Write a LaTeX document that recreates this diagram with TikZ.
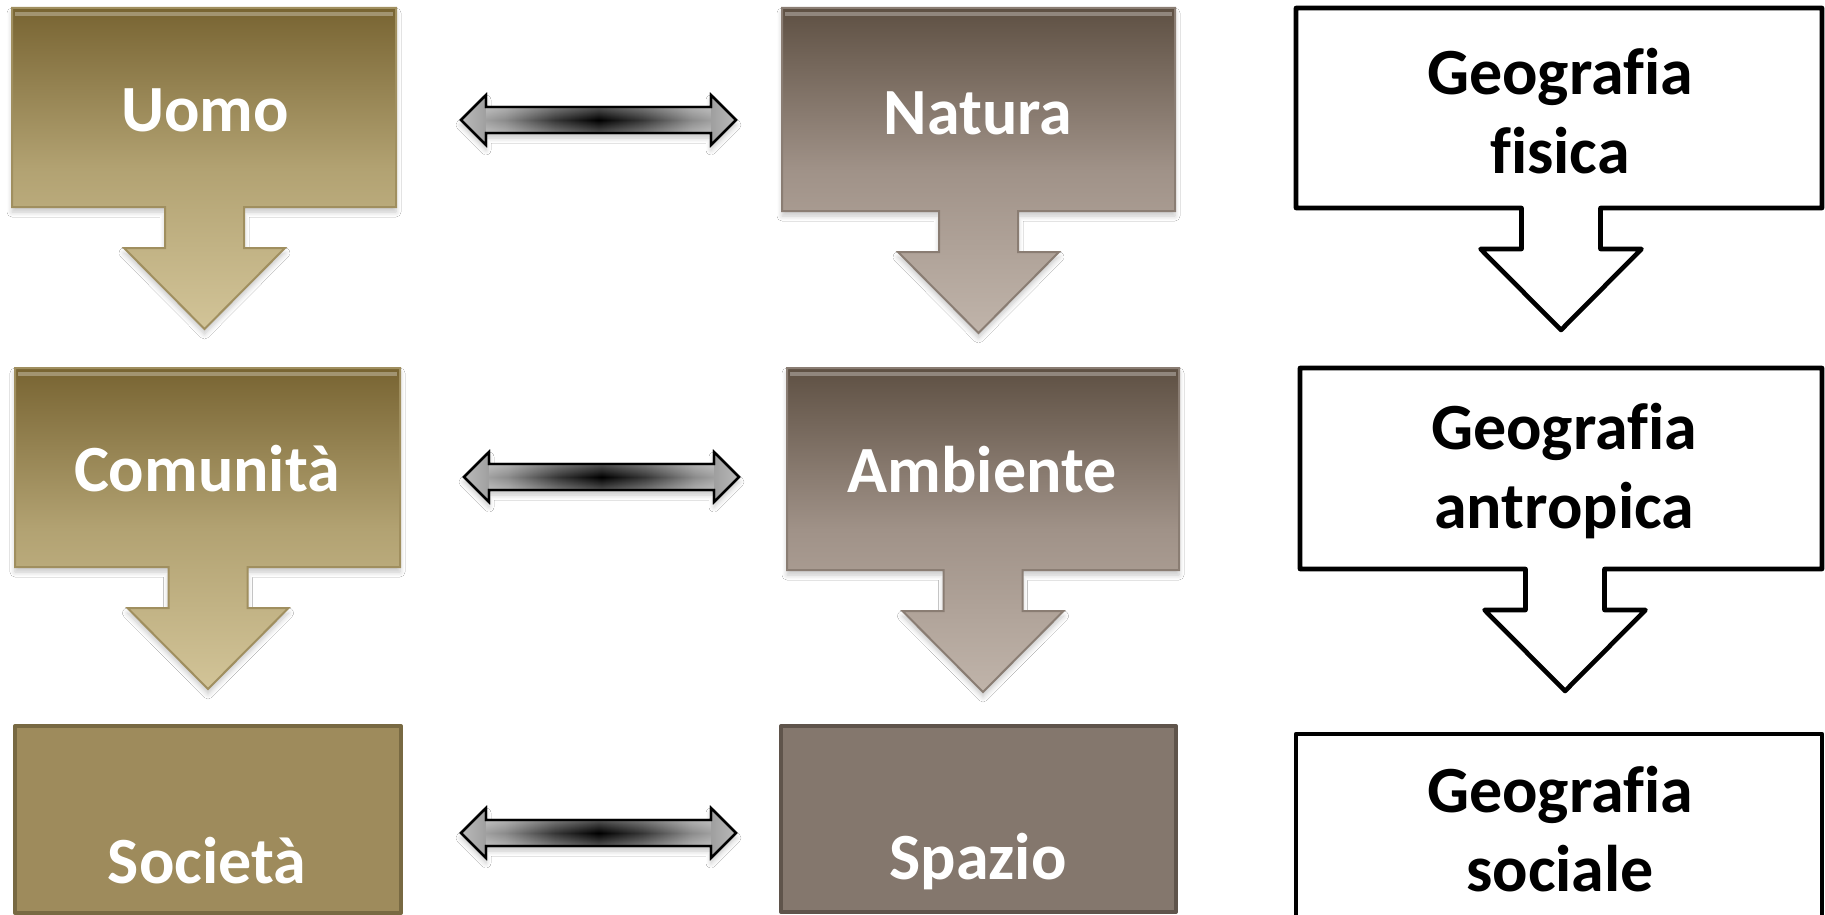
\documentclass[tikz,border=0pt]{standalone}
\usepackage{fontspec}
\setmainfont{Carlito}[Ligatures=NoCommon]
\usetikzlibrary{calc,shadows.blur,fadings}
\definecolor{oliveTop}{RGB}{120,100,50}
\definecolor{oliveMid}{RGB}{178,162,114}
\definecolor{oliveBot}{RGB}{210,196,152}
\definecolor{oliveLine}{RGB}{160,143,95}
\definecolor{oliveFlat}{RGB}{158,139,92}
\definecolor{oliveDark}{RGB}{120,105,66}
\definecolor{taupeTop}{RGB}{94,80,67}
\definecolor{taupeMid}{RGB}{160,146,136}
\definecolor{taupeBot}{RGB}{192,180,170}
\definecolor{taupeLine}{RGB}{138,125,115}
\definecolor{taupeFlat}{RGB}{132,119,109}
\definecolor{taupeDark}{RGB}{95,84,75}
\definecolor{arrGray}{RGB}{185,185,185}
\definecolor{arrMid}{RGB}{140,140,140}
\definecolor{arrDark}{RGB}{55,55,55}
\pgfdeclarehorizontalshading{dblshade}{100bp}{color(0bp)=(arrGray); color(25bp)=(arrGray); color(33bp)=(arrMid); color(42bp)=(arrDark); color(50bp)=(black); color(58bp)=(arrDark); color(67bp)=(arrMid); color(75bp)=(arrGray); color(100bp)=(arrGray)}
\tikzfading[name=edgefade, top color=transparent!70, bottom color=transparent!70, middle color=transparent!100]
\newcommand\calloutpath[5]{(#1,#2) -- (#3,#2) -- (#3,#4) -- (#5+39.5,#4) -- (#5+39.5,#4+41) -- (#5+80.5,#4+41) -- (#5,#4+122) -- (#5-80.5,#4+41) -- (#5-39.5,#4+41) -- (#5-39.5,#4) -- (#1,#4) -- cycle}
\newcommand\dblarrpath[2]{(#1) -- ++(25,-25) -- ++(0,12) -- ($(#2)+(-25,-13)$) -- ++(0,-12) -- (#2) -- ++(-25,25) -- ++(0,-12) -- ($(#1)+(25,13)$) -- ++(0,12) -- cycle}
\tikzset{
  softshadow/.style={blur shadow={shadow blur steps=6, shadow xshift=0pt, shadow yshift=-2.5pt, shadow opacity=22, shadow blur radius=2.5pt}},
  olivegrad/.style={draw=oliveLine, line width=1pt, top color=oliveTop, bottom color=oliveBot, middle color=oliveMid, softshadow},
  taupegrad/.style={draw=taupeLine, line width=1pt, top color=taupeTop, bottom color=taupeBot, middle color=taupeMid, softshadow},
  bevel/.style={draw=white, draw opacity=0.3, line width=2pt},
  olivebox/.style={draw=oliveDark, fill=oliveFlat, line width=2pt, line join=round},
  taupebox/.style={draw=taupeDark, fill=taupeFlat, line width=2pt, line join=round},
  geobox/.style={draw=black, fill=white, line width=2.3pt, line join=round},
  dblarr/.style={draw=black, line width=1.1pt, line join=miter, shading=dblshade, softshadow},
  dblgloss/.style={fill=white, path fading=edgefade},
  wtext/.style={text=white, font=\fontsize{33}{39.5}\selectfont\bfseries, inner sep=0pt, align=center},
  btext/.style={text=black, font=\fontsize{33}{39.5}\selectfont\bfseries, inner sep=0pt, align=center},
}
\begin{document}
\begin{tikzpicture}[x=0.5pt, y=-0.5pt]
\useasboundingbox (0,0) rectangle (1825,915);
\fill[white] (0,0) rectangle (1825,915);
% column 1
\path[olivegrad] \calloutpath{12}{8}{396}{207}{204.5};
\path[bevel] (15,14) -- (393,14);
\path[olivegrad] \calloutpath{15}{368}{400}{567}{208};
\path[bevel] (18,374) -- (397,374);
\path[olivebox] (15,726) rectangle (401,913);
% column 2
\path[taupegrad] \calloutpath{782}{8}{1175}{211}{978.5};
\path[bevel] (785,14) -- (1172,14);
\path[taupegrad] \calloutpath{787}{368}{1179}{570}{983};
\path[bevel] (790,374) -- (1176,374);
\path[taupebox] (781,726) rectangle (1176,912);
% column 3
\path[geobox] \calloutpath{1296}{8}{1822}{208}{1561};
\path[geobox] \calloutpath{1300}{368}{1822}{569}{1565};
\path[geobox] (1296,734) rectangle (1822,930);
% texts
\node[wtext] (uomo) at (205,110) {Uomo};
\node[wtext] (comunita) at (207,469) {Comunità};
\node[wtext] (societa) at (207,861) {Società};
\node[wtext] (natura) at (978,113) {Natura};
\node[wtext] (ambiente) at (982,470) {Ambiente};
\node[wtext] (spazio) at (978,862) {Spazio};
\node[btext] (gfis) at (1560,111) {Geografia\\fisica};
\node[btext] (gant) at (1564,471) {Geografia\\antropica};
\node[btext] (gsoc) at (1560,829) {Geografia\\sociale};
% double arrows
\coordinate (a1l) at (461,120); \coordinate (a1r) at (736,120);
\coordinate (a2l) at (464,477); \coordinate (a2r) at (739,477);
\coordinate (a3l) at (461,833); \coordinate (a3r) at (736,833);
\foreach \l/\r in {a1l/a1r, a2l/a2r, a3l/a3r}{
  \path[dblarr] \dblarrpath{\l}{\r};
  \path[dblgloss] ($(\l)+(25,-12)$) rectangle ($(\r)+(-25,12)$);
  \path[draw=black, line width=1.1pt, line join=miter] \dblarrpath{\l}{\r};
}
\end{tikzpicture}
\end{document}
